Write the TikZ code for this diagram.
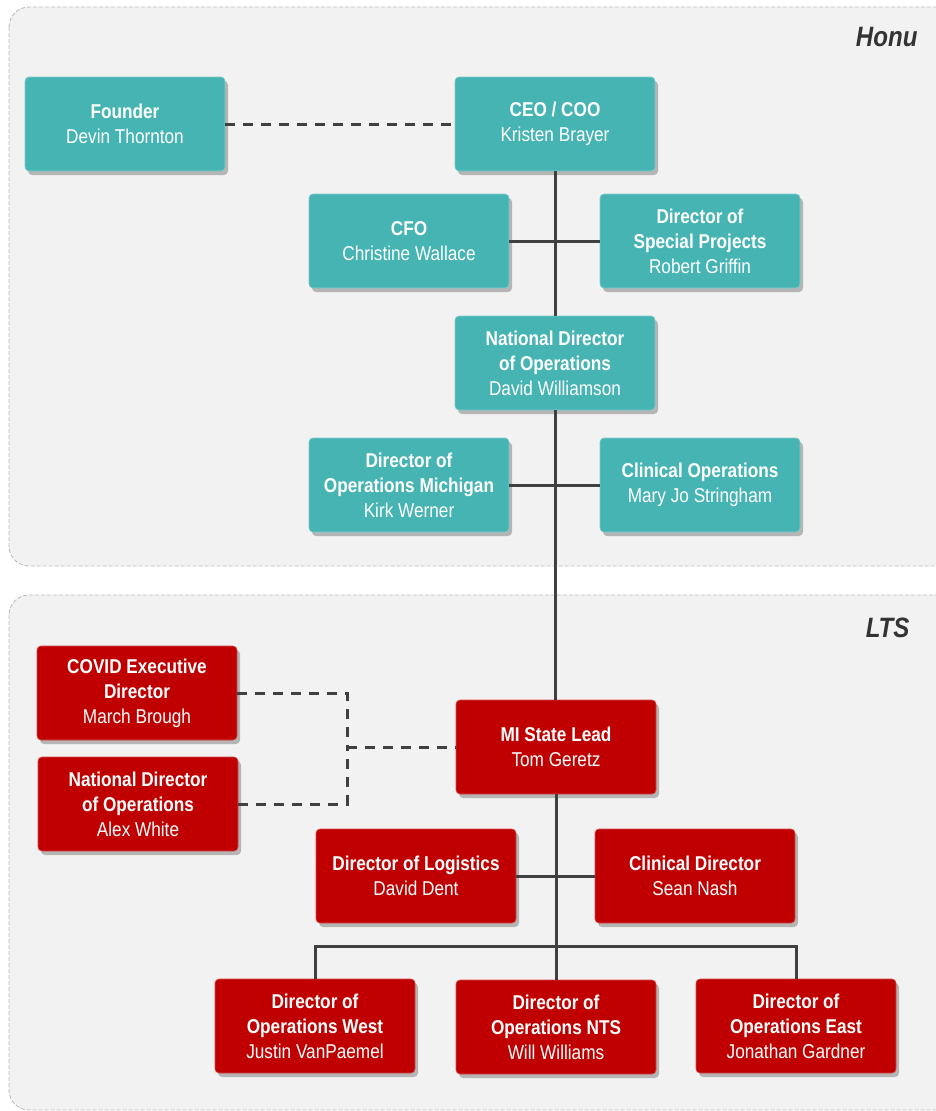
\documentclass[tikz,border=0pt]{standalone}
\usepackage{fontspec}
\setmainfont{Liberation Sans}[FakeStretch=0.86]
\usepackage{xcolor}
\usetikzlibrary{shadows}

\definecolor{honuteal}{HTML}{47B4B4}
\definecolor{ltsred}{HTML}{C00000}
\definecolor{panelgray}{HTML}{F2F2F2}
\definecolor{panelline}{HTML}{BDBDBD}
\definecolor{linkgray}{HTML}{404040}

\tikzset{
  role/.style={rounded corners=4pt, minimum width=200pt, minimum height=94pt,
    align=center, text=white, inner sep=2pt,
    font=\fontsize{20}{25}\selectfont,
    drop shadow={shadow xshift=3pt, shadow yshift=-4pt, fill=black, opacity=0.25}},
  honu/.style={role, fill=honuteal, draw=honuteal!70!white, line width=0.6pt},
  lts/.style={role, fill=ltsred, draw=ltsred!70!white, line width=0.6pt},
  panel/.style={fill=panelgray, draw=panelline, dash pattern=on 4pt off 2pt,
    line width=0.9pt, rounded corners=20pt},
  panellabel/.style={anchor=east, text=black!80,
    font=\fontsize{28}{30}\selectfont\bfseries\itshape},
  link/.style={draw=linkgray, line width=3pt},
  dotted link/.style={link, dash pattern=on 10pt off 8pt}
}

\begin{document}
\begin{tikzpicture}[x=1pt,y=-1pt]
		\useasboundingbox (0,0) rectangle (936,1111);
		% background panels
		\path[panel] (9,7) rectangle (975,566);
		\path[panel] (9,595) rectangle (975,1110);
		\node[panellabel] (honulbl) at (921,37) {Honu};
		\node[panellabel] (ltslbl) at (913,628) {LTS};
		%
		\node[honu] (founder) at (125,124) {\textbf{Founder}\\Devin Thornton};
		\node[honu] (ceo) at (555,124) {\textbf{CEO / COO}\\Kristen Brayer};
		\node[honu] (cfo) at (409,241) {\textbf{CFO}\\Christine Wallace};
		\node[honu] (spec) at (700,241) {\textbf{Director of}\\\textbf{Special Projects}\\Robert Griffin};
		\node[honu] (natdir) at (555,363) {\textbf{National Director}\\\textbf{of Operations}\\David Williamson};
		\node[honu] (michigan) at (409,485) {\textbf{Director of}\\\textbf{Operations Michigan}\\Kirk Werner};
		\node[honu] (clinops) at (700,485) {\textbf{Clinical Operations}\\Mary Jo Stringham};
		%
		\node[lts] (covid) at (137,693) {\textbf{COVID Executive}\\\textbf{Director}\\March Brough};
		\node[lts] (natdirlts) at (138,804) {\textbf{National Director}\\\textbf{of Operations}\\Alex White};
		\node[lts] (milead) at (556,747) {\textbf{MI State Lead}\\Tom Geretz};
		\node[lts] (logist) at (416,876) {\textbf{Director of Logistics}\\David Dent};
		\node[lts] (clindir) at (695,876) {\textbf{Clinical Director}\\Sean Nash};
		\node[lts] (west) at (315,1026) {\textbf{Director of}\\\textbf{Operations West}\\Justin VanPaemel};
		\node[lts] (nts) at (556,1027) {\textbf{Director of}\\\textbf{Operations NTS}\\Will Williams};
		\node[lts] (east) at (796,1026) {\textbf{Director of}\\\textbf{Operations East}\\Jonathan Gardner};
		%
		\coordinate (covidjoin) at (347,747);
		\coordinate (opsbar) at (556,946);
		%
		\path[link]
		(ceo) edge (natdir)
		(cfo) edge (spec)
		(natdir.south) edge (natdir.south |- milead.north)
		(michigan) edge (clinops)
		(milead) edge (nts)
		(logist) edge (clindir);
		\draw[link] (west) |- (opsbar) -| (east);
		\path[dotted link]
		(founder) edge (ceo)
		(covidjoin) edge (milead);
		\draw[dotted link] (covid.east) -| (covidjoin);
		\draw[dotted link] (natdirlts.east) -| (covidjoin);
\end{tikzpicture}
\end{document}
